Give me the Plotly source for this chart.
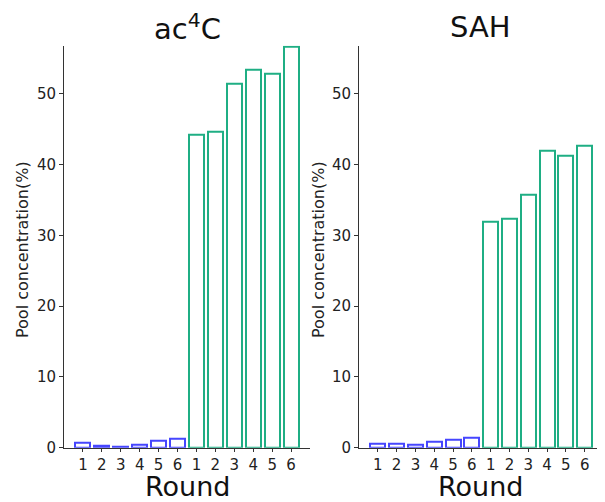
import plotly.graph_objects as go

rounds = ["1", "2", "3", "4", "5", "6"]
ac4c_blue = [0.76, 0.28, 0.10, 0.38, 0.95, 1.23]
ac4c_green = [44.2, 44.6, 51.5, 53.4, 52.8, 56.7]
sah_blue = [0.52, 0.56, 0.47, 0.85, 1.09, 1.37]
sah_green = [31.9, 32.3, 35.7, 42.0, 41.3, 42.7]
panel_titles = ["ac<sup>4</sup>C", "SAH"]
y_title = "Pool concentration(%)"
x_title = "Round"

BLUE = "#4646ff"
GREEN = "#1fae84"
FONT = "DejaVu Sans"

pos_blue = list(range(1, 7))
pos_green = list(range(7, 13))

fig = go.Figure()
for i, (b, g) in enumerate([(ac4c_blue, ac4c_green), (sah_blue, sah_green)]):
    xa = "x" if i == 0 else "x2"
    ya = "y" if i == 0 else "y2"
    fig.add_trace(go.Bar(x=pos_blue, y=b, width=0.8, xaxis=xa, yaxis=ya,
                         marker=dict(color="rgba(255,255,255,0)", line=dict(color=BLUE, width=2)),
                         showlegend=False))
    fig.add_trace(go.Bar(x=pos_green, y=g, width=0.8, xaxis=xa, yaxis=ya,
                         marker=dict(color="rgba(255,255,255,0)", line=dict(color=GREEN, width=2)),
                         showlegend=False))

# page has an 8px body margin; figure is sized to fit the window
OFF = 8
W, H = 605 - OFF, 502 - OFF


def px(x):
    return (x - OFF) / W


def py(y):
    return 1 - (y - OFF) / H


common_x = dict(range=[0, 13], tickmode="array", tickvals=list(range(1, 13)),
                ticktext=rounds + rounds, showgrid=False, zeroline=False,
                showline=True, linecolor="#333", linewidth=1, automargin=False,
                ticks="outside", ticklen=3, tickcolor="#333",
                tickfont=dict(family=FONT, size=15, color="#222"))
common_y = dict(range=[0, 56.8], tickvals=[0, 10, 20, 30, 40, 50], showgrid=False,
                zeroline=False, showline=True, linecolor="#333", linewidth=1, automargin=False,
                ticks="outside", ticklen=4, tickcolor="#333",
                tickfont=dict(family=FONT, size=15, color="#222"),
                domain=[py(447.7), py(45.7)])

fig.update_layout(
    width=W, height=H, margin=dict(l=0, r=0, t=0, b=0),
    plot_bgcolor="white", paper_bgcolor="white", bargap=0,
    xaxis=dict(domain=[px(64), px(310)], anchor="y", **common_x),
    xaxis2=dict(domain=[px(359), min(1.0, px(603.5))], anchor="y2", **common_x),
    yaxis=dict(anchor="x", **common_y),
    yaxis2=dict(anchor="x2", **common_y),
)

ann = []
for cx, t, ytx in [(187, panel_titles[0], 22), (481, panel_titles[1], 318)]:
    ann.append(dict(x=px(cx), y=py(27), xref="paper", yref="paper", text=t,
                    showarrow=False, font=dict(family=FONT, size=29, color="#111"),
                    xanchor="center", yanchor="middle"))
    ann.append(dict(x=px(cx), y=py(486.5), xref="paper", yref="paper", text=x_title,
                    showarrow=False, font=dict(family=FONT, size=27, color="#111"),
                    xanchor="center", yanchor="middle"))
    ann.append(dict(x=px(ytx), y=py(250), xref="paper", yref="paper", text=y_title,
                    textangle=-90, showarrow=False, font=dict(family=FONT, size=16, color="#222"),
                    xanchor="center", yanchor="middle"))
fig.update_layout(annotations=ann)

fig.write_html("out.html")
